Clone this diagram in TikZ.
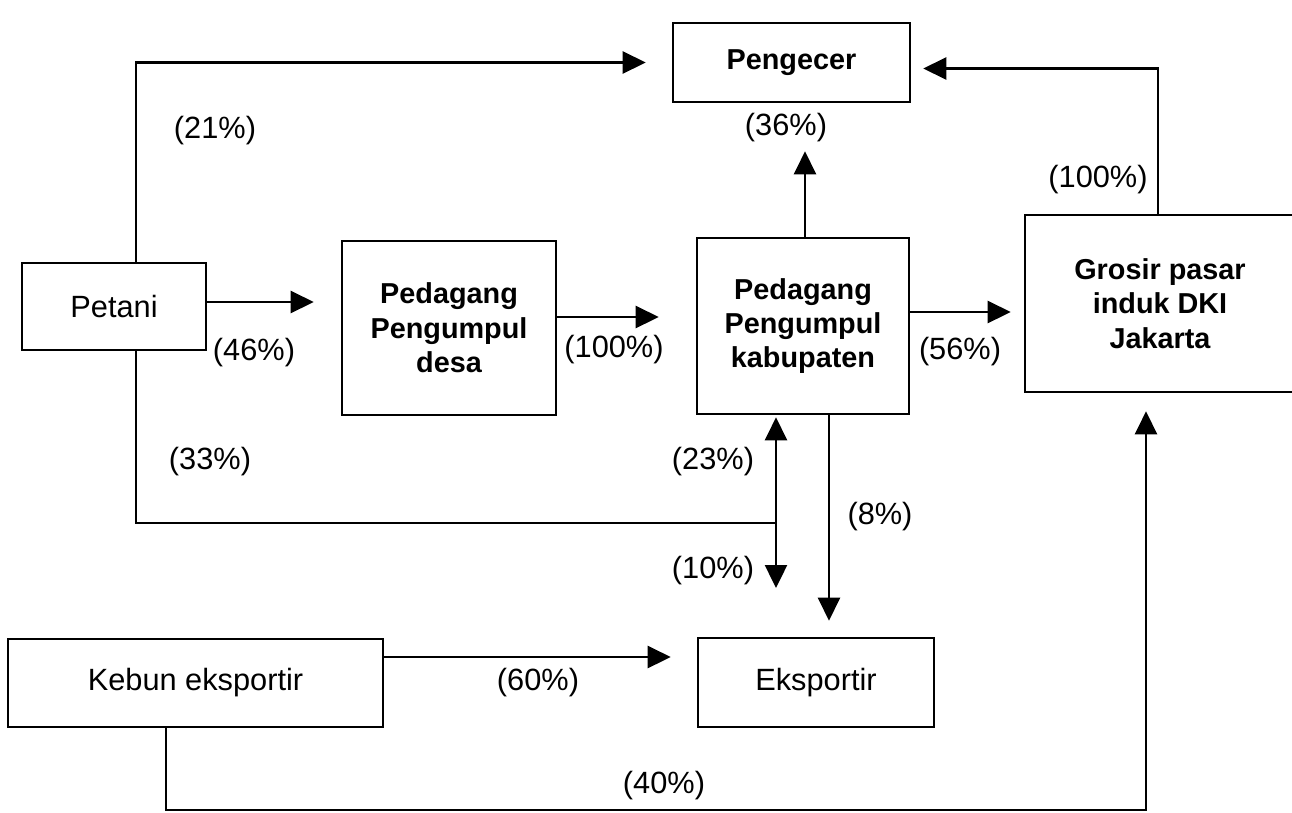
\documentclass[tikz,border=0pt]{standalone}
\usepackage{fontspec}
\setmainfont{Liberation Sans}
\usepackage{tikz}
\usetikzlibrary{arrows.meta,calc}

\begin{document}
\begin{tikzpicture}[x=0.02cm, y=-0.02cm, >={Triangle[length=0.46cm, width=0.44cm]},
  actor/.style={draw, line width=1.5pt, align=center, inner sep=2pt, font=\fontsize{17.5}{21}\selectfont},
  trader/.style={draw, line width=1.5pt, align=center, inner sep=2pt, font=\fontsize{16.4}{19.6}\selectfont\bfseries},
  arr/.style={->, line width=1.4pt},
  link/.style={line width=1.4pt},
  pct/.style={font=\fontsize{17.5}{21}\selectfont, inner sep=1pt}]
  \useasboundingbox (0,0) rectangle (1292,812);
  \node[trader, minimum width=4.74cm, minimum height=1.58cm] (peng)   at (791.5,62.5) {Pengecer};
  \node[actor,  minimum width=3.68cm, minimum height=1.74cm] (petani) at (114,306.5)  {Petani};
  \node[trader, minimum width=4.28cm, minimum height=3.48cm] (desa)   at (449,328)    {Pedagang\\Pengumpul\\desa};
  \node[trader, minimum width=4.24cm, minimum height=3.52cm] (kab)    at (803,326)    {Pedagang\\Pengumpul\\kabupaten};
  \node[trader, minimum width=5.40cm, minimum height=3.54cm] (grosir) at (1160,303.5) {Grosir pasar\\induk DKI\\Jakarta};
  \node[actor,  minimum width=7.50cm, minimum height=1.76cm] (kebun)  at (195.5,683)  {Kebun eksportir};
  \node[actor,  minimum width=4.72cm, minimum height=1.78cm] (eksp)   at (816,682.5)  {Eksportir};
  \coordinate (jn) at (776,523);
  \coordinate (jnend) at (776,588);
  \coordinate (base) at (0,810);

  \draw[arr, shorten >=0.52cm] ([xshift=0.44cm]petani.north) |- (peng.west);
  \draw[arr, shorten >=0.54cm] ([yshift=0.09cm]petani.east) -- ([yshift=0.09cm]petani.east -| desa.west);
  \draw[arr, shorten >=0.74cm] ([yshift=0.22cm]desa.east) -- ([yshift=0.22cm]desa.east -| kab.west);
  \draw[arr, shorten >=0.26cm] ([yshift=0.28cm]kab.east) -- ([yshift=0.28cm]kab.east -| grosir.west);
  \draw[arr, shorten >=0.96cm] ([xshift=0.04cm]kab.north) -- ([xshift=0.04cm]kab.north |- peng.south);
  \draw[arr, shorten >=0.24cm] ([xshift=-0.04cm]grosir.north) |- ([yshift=-0.12cm]peng.east);
  \draw[link] ([xshift=0.44cm]petani.south) |- (jn);
  \draw[arr, shorten >=0.04cm] (jn) -- (jn |- kab.south);
  \draw[arr] (jn) -- (jnend);
  \draw[arr, shorten >=0.32cm] ([xshift=0.52cm]kab.south) -- ([xshift=0.52cm]kab.south |- eksp.north);
  \draw[arr, shorten >=0.52cm] ([yshift=0.52cm]kebun.east) -- ([yshift=0.52cm]kebun.east -| eksp.west);
  \draw[arr, shorten >=0.36cm] ([xshift=-0.59cm]kebun.south) -- ([xshift=-0.59cm]kebun.south |- base) -| ([xshift=-0.28cm]grosir.south);

  \node[pct] (p21)  at (215,131)  {(21\%)};
  \node[pct] (p46)  at (254,353)  {(46\%)};
  \node[pct] (p100) at (614,350)  {(100\%)};
  \node[pct] (p56)  at (960,352)  {(56\%)};
  \node[pct] (p36)  at (786,128)  {(36\%)};
  \node[pct] (p100g) at (1098,180) {(100\%)};
  \node[pct] (p33)  at (210,462)  {(33\%)};
  \node[pct] (p23)  at (713,462)  {(23\%)};
  \node[pct] (p10)  at (713,571)  {(10\%)};
  \node[pct] (p8)   at (880,517)  {(8\%)};
  \node[pct] (p60)  at (538,683)  {(60\%)};
  \node[pct] (p40)  at (664,786)  {(40\%)};
\end{tikzpicture}
\end{document}
